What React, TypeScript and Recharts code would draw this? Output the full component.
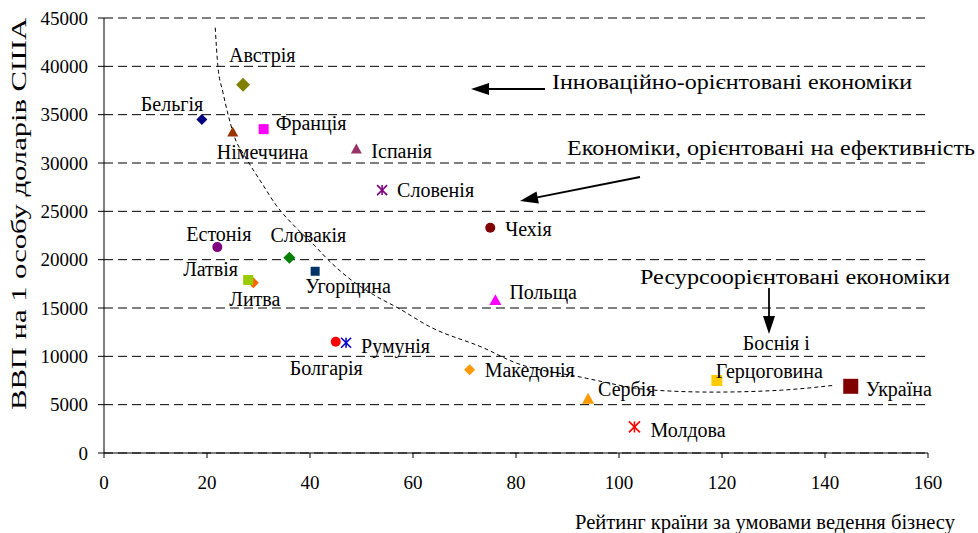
import React from 'react';
import { ComposedChart, XAxis, YAxis, CartesianGrid, Scatter, Line } from 'recharts';

// ---- data ----
const countries = [
  'Бельгія', 'Австрія', 'Німеччина', 'Франція', 'Іспанія', 'Словенія', 'Чехія',
  'Естонія', 'Словакія', 'Угорщина', 'Литва', 'Латвія', 'Польща', 'Болгарія',
  'Румунія', 'Македонія', 'Сербія', 'Боснія і Герцоговина', 'Україна', 'Молдова',
];
const ratings = [19, 27, 25, 31, 49, 54, 75, 22, 36, 41, 29, 28, 76, 45, 47, 71, 94, 119, 145, 103];
const gdpPerCapita = [
  34500, 38100, 33200, 33500, 31450, 27200, 23300, 21300, 20200, 18800, 17600, 17900,
  15800, 11500, 11400, 8600, 5600, 7500, 6900, 2700,
];

// trend (dashed) curve
const curveX = [21.6, 22.1, 23.1, 24.1, 25.2, 27.6, 30.9, 33.4, 37.3, 40.8, 43.5, 48.0, 52.4, 57.1, 63.5, 73.8, 79.6, 92.6, 106.8, 118.4, 131.5, 141.7];
const curveY = [44000, 40100, 37300, 35000, 32900, 30500, 27700, 25650, 23300, 21500, 20000, 17900, 16350, 15000, 13000, 10850, 9400, 7850, 6500, 6300, 6500, 7000];

const xTicks = [0, 20, 40, 60, 80, 100, 120, 140, 160];
const yTicks = [0, 5000, 10000, 15000, 20000, 25000, 30000, 35000, 40000, 45000];

const points = countries.map((name, i) => ({ name, x: ratings[i], y: gdpPerCapita[i] }));
const curve = curveX.map((x, i) => ({ x, y: curveY[i] }));

// ---- styles ----
type MStyle = { shape: 'diamond' | 'square' | 'triangle' | 'circle' | 'star'; color: string; r: number };
const markerStyle: Record<string, MStyle> = {
  'Бельгія': { shape: 'diamond', color: '#000080', r: 5.5 },
  'Австрія': { shape: 'diamond', color: '#808000', r: 7 },
  'Німеччина': { shape: 'triangle', color: '#993300', r: 5.5 },
  'Франція': { shape: 'square', color: '#FF00FF', r: 5 },
  'Іспанія': { shape: 'triangle', color: '#993366', r: 5.5 },
  'Словенія': { shape: 'star', color: '#800080', r: 5 },
  'Чехія': { shape: 'circle', color: '#800000', r: 5 },
  'Естонія': { shape: 'circle', color: '#800080', r: 5 },
  'Словакія': { shape: 'diamond', color: '#008000', r: 6 },
  'Угорщина': { shape: 'square', color: '#003366', r: 4.5 },
  'Литва': { shape: 'diamond', color: '#FF6600', r: 5.5 },
  'Латвія': { shape: 'square', color: '#99CC00', r: 5 },
  'Польща': { shape: 'triangle', color: '#FF00FF', r: 6 },
  'Болгарія': { shape: 'circle', color: '#FF0000', r: 5 },
  'Румунія': { shape: 'star', color: '#0000CC', r: 5 },
  'Македонія': { shape: 'diamond', color: '#FF9900', r: 5.5 },
  'Сербія': { shape: 'triangle', color: '#FF9900', r: 6 },
  'Боснія і Герцоговина': { shape: 'square', color: '#FFCC00', r: 5.5 },
  'Україна': { shape: 'square', color: '#800000', r: 7.5 },
  'Молдова': { shape: 'star', color: '#FF0000', r: 5.5 },
};

// label placement: [dx to left edge, dy to vertical centre, text lines]
const labelPlace: Record<string, Array<[number, number, string]>> = {
  'Бельгія': [[-61, -16, 'Бельгія']],
  'Австрія': [[-14, -30, 'Австрія']],
  'Німеччина': [[-16, 20, 'Німеччина']],
  'Франція': [[12, -6, 'Франція']],
  'Іспанія': [[15, 2, 'Іспанія']],
  'Словенія': [[15, 0, 'Словенія']],
  'Чехія': [[15, 1, 'Чехія']],
  'Естонія': [[-31, -13, 'Естонія']],
  'Словакія': [[-19, -23, 'Словакія']],
  'Угорщина': [[-10, 15, 'Угорщина']],
  'Литва': [[-24, 16, 'Литва']],
  'Латвія': [[-65, -11, 'Латвія']],
  'Польща': [[14, -8, 'Польща']],
  'Болгарія': [[-46, 26, 'Болгарія']],
  'Румунія': [[15, 3, 'Румунія']],
  'Македонія': [[15, 0, 'Македонія']],
  'Сербія': [[10, -10, 'Сербія']],
  'Боснія і Герцоговина': [[26, -38, 'Боснія і'], [-1, -10, 'Герцоговина']],
  'Україна': [[15, 3, 'Україна']],
  'Молдова': [[16, 3, 'Молдова']],
};

const FONT = '"Liberation Serif", "Times New Roman", serif';

function Marker(props: any) {
  const { cx, cy, payload } = props;
  if (cx == null || cy == null || !payload) return null;
  const st = markerStyle[payload.name];
  const r = st.r;
  let mark: React.ReactNode = null;
  if (st.shape === 'diamond') {
    mark = <polygon points={`${cx},${cy - r} ${cx + r},${cy} ${cx},${cy + r} ${cx - r},${cy}`} fill={st.color} />;
  } else if (st.shape === 'square') {
    mark = <rect x={cx - r} y={cy - r} width={2 * r} height={2 * r} fill={st.color} />;
  } else if (st.shape === 'triangle') {
    mark = <polygon points={`${cx},${cy - r} ${cx + r},${cy + r * 0.8} ${cx - r},${cy + r * 0.8}`} fill={st.color} />;
  } else if (st.shape === 'circle') {
    mark = <circle cx={cx} cy={cy} r={r} fill={st.color} />;
  } else {
    mark = (
      <g stroke={st.color} strokeWidth={1.6}>
        <line x1={cx - r} y1={cy - r} x2={cx + r} y2={cy + r} />
        <line x1={cx - r} y1={cy + r} x2={cx + r} y2={cy - r} />
        <line x1={cx} y1={cy - r} x2={cx} y2={cy + r} />
      </g>
    );
  }
  const labels = labelPlace[payload.name] || [];
  return (
    <g>
      {mark}
      {labels.map(([dx, dy, t], i) => (
        <text key={i} x={cx + dx} y={cy + dy} dominantBaseline="central" fontFamily={FONT} fontSize={20} fill="#000">
          {t}
        </text>
      ))}
    </g>
  );
}

export default function App() {
  const W = 978;
  const H = 533;
  return (
    <div style={{ position: 'absolute', left: 0, top: 0, width: W, height: H, background: '#fff' }}>
      <ComposedChart width={W} height={H} margin={{ top: 18, right: 50, bottom: 50, left: 0 }}>
        <CartesianGrid horizontal vertical={false} stroke="#000" strokeDasharray="9 5" />
        <XAxis
          type="number"
          dataKey="x"
          domain={[0, 160]}
          ticks={xTicks}
          height={30}
          tickSize={5}
          tickMargin={18}
          axisLine={{ stroke: '#000' }}
          tickLine={{ stroke: '#000' }}
          tick={{ fill: '#000', fontSize: 19, fontFamily: FONT }}
          allowDecimals={false}
        />
        <YAxis
          type="number"
          dataKey="y"
          domain={[0, 45000]}
          ticks={yTicks}
          width={104}
          tickSize={6}
          tickMargin={10}
          axisLine={{ stroke: '#000' }}
          tickLine={{ stroke: '#000' }}
          tick={{ fill: '#000', fontSize: 19, fontFamily: FONT }}
        />
        <Scatter data={points} dataKey="y" shape={Marker} isAnimationActive={false} />
        <Line
          data={curve}
          dataKey="y"
          type="monotone"
          stroke="#000"
          strokeWidth={1}
          strokeDasharray="4 3"
          dot={false}
          activeDot={false}
          isAnimationActive={false}
        />
      </ComposedChart>
      <svg width={W} height={H} style={{ position: 'absolute', left: 0, top: 0, pointerEvents: 'none' }}>
        <text
          transform="translate(19,410) rotate(-90)"
          dominantBaseline="central"
          fontFamily={FONT}
          fontSize={20}
          textLength={392}
          lengthAdjust="spacingAndGlyphs"
          fill="#000"
        >
          ВВП на 1 особу доларів США
        </text>
        <text x={575} y={522} dominantBaseline="central" fontFamily={FONT} fontSize={20} textLength={380} lengthAdjust="spacingAndGlyphs" fill="#000">
          Рейтинг країни за умовами ведення бізнесу
        </text>
        <text x={552} y={82} dominantBaseline="central" fontFamily={FONT} fontSize={20} textLength={360} lengthAdjust="spacingAndGlyphs" fill="#000">
          Інноваційно-орієнтовані економіки
        </text>
        <text x={567} y={148} dominantBaseline="central" fontFamily={FONT} fontSize={20} textLength={408} lengthAdjust="spacingAndGlyphs" fill="#000">
          Економіки, орієнтовані на ефективність
        </text>
        <text x={640} y={277} dominantBaseline="central" fontFamily={FONT} fontSize={20} textLength={310} lengthAdjust="spacingAndGlyphs" fill="#000">
          Ресурсоорієнтовані економіки
        </text>
        {/* arrows */}
        <line x1={487} y1={89} x2={545} y2={89} stroke="#000" strokeWidth={1.8} />
        <polygon points="471,89 489,83 489,95" fill="#000" />
        <line x1={536} y1={197.6} x2={640} y2={177} stroke="#000" strokeWidth={1.8} />
        <polygon points="520,201 538.9,203.4 536.5,191.6" fill="#000" />
        <line x1={769} y1={288} x2={769} y2={318} stroke="#000" strokeWidth={1.8} />
        <polygon points="769,334 763,316 775,316" fill="#000" />
      </svg>
    </div>
  );
}
